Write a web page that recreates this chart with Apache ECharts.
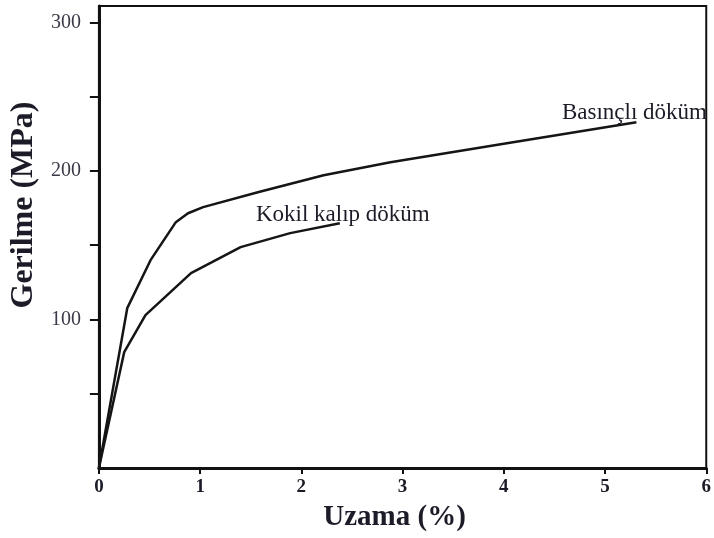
<!DOCTYPE html>
<html>
<head>
<meta charset="utf-8">
<script src="https://cdn.jsdelivr.net/npm/echarts@6/dist/echarts.min.js"></script>
<style>
  html, body { margin: 0; padding: 0; background: #fff; }
  #chart { width: 714px; height: 538px; }
</style>
</head>
<body>
<div id="chart"></div>
<script>
// Stress–strain curves for two casting methods
const basincliStrain = [0, 0.28, 0.51, 0.76, 0.88, 1.03, 1.57, 2.22, 2.88, 4.0, 5.31];
const basincliStress = [0, 107.6, 139.9, 165.5, 171.5, 175.6, 185.6, 197.1, 205.8, 218.2, 232.7];

const kokilStrain = [0, 0.25, 0.46, 0.91, 1.40, 1.89, 2.38];
const kokilStress = [0, 78.0, 102.9, 131.2, 148.7, 158.1, 164.8];

const seriesNames = ['Basınçlı döküm', 'Kokil kalıp döküm'];
const xTicks = [0, 1, 2, 3, 4, 5, 6];
const yTicks = [50, 100, 150, 200, 250, 300];
const yTickLabels = [100, 200, 300];

const serif = '"Liberation Serif", "Times New Roman", serif';
const ink = '#1c1c28';

function pairs(xs, ys) {
  return xs.map((x, i) => [x, ys[i]]);
}

// curve name written just above the end of each curve
function endLabel(offset) {
  return {
    show: true,
    formatter: '{a}',
    align: 'center',
    verticalAlign: 'bottom',
    distance: 0,
    offset: offset,
    fontFamily: serif,
    fontSize: 23,
    color: ink
  };
}

const chart = echarts.init(document.getElementById('chart'), null, { renderer: 'canvas' });

chart.setOption({
  animation: false,
  backgroundColor: '#ffffff',
  grid: {
    left: 98, right: 6, top: 6, bottom: 70,
    show: true,
    borderColor: '#111',
    borderWidth: 2,
    backgroundColor: 'transparent'
  },
  xAxis: {
    type: 'value',
    min: 0, max: 6, interval: 1,
    name: 'Uzama (%)',
    nameLocation: 'middle',
    nameGap: 35,
    nameTextStyle: {
      fontFamily: serif, fontSize: 29, fontWeight: 'bold', color: ink,
      padding: [0, 16, 0, 0]
    },
    axisLine: { show: true, onZero: false, lineStyle: { color: '#111', width: 3 } },
    axisTick: { show: true, length: 6, lineStyle: { color: '#111', width: 2 } },
    axisLabel: {
      margin: 10,
      fontFamily: serif, fontSize: 19, fontWeight: 'bold', color: ink,
      formatter: v => (xTicks.indexOf(v) >= 0 ? String(v) : '')
    },
    splitLine: { show: false }
  },
  yAxis: {
    type: 'value',
    min: 0, max: 311,
    name: 'Gerilme (MPa)',
    nameLocation: 'middle',
    nameGap: 54,
    nameRotate: 90,
    nameTextStyle: {
      fontFamily: serif, fontSize: 32, fontWeight: 'bold', color: ink,
      padding: [0, 0, 0, 64]
    },
    axisLine: { show: true, onZero: false, lineStyle: { color: '#111', width: 3 } },
    axisTick: { show: true, length: 9, customValues: yTicks, lineStyle: { color: '#111', width: 2 } },
    axisLabel: {
      margin: 18,
      customValues: yTickLabels,
      fontFamily: serif, fontSize: 20, color: '#3a3a48'
    },
    splitLine: { show: false }
  },
  series: [
    {
      name: seriesNames[0],
      type: 'line',
      showSymbol: false,
      symbol: 'none',
      lineStyle: { color: '#151515', width: 2.5 },
      endLabel: endLabel([-2, 2]),
      data: pairs(basincliStrain, basincliStress)
    },
    {
      name: seriesNames[1],
      type: 'line',
      showSymbol: false,
      symbol: 'none',
      lineStyle: { color: '#151515', width: 2.5 },
      endLabel: endLabel([3, 3]),
      data: pairs(kokilStrain, kokilStress)
    }
  ]
});
</script>
</body>
</html>
